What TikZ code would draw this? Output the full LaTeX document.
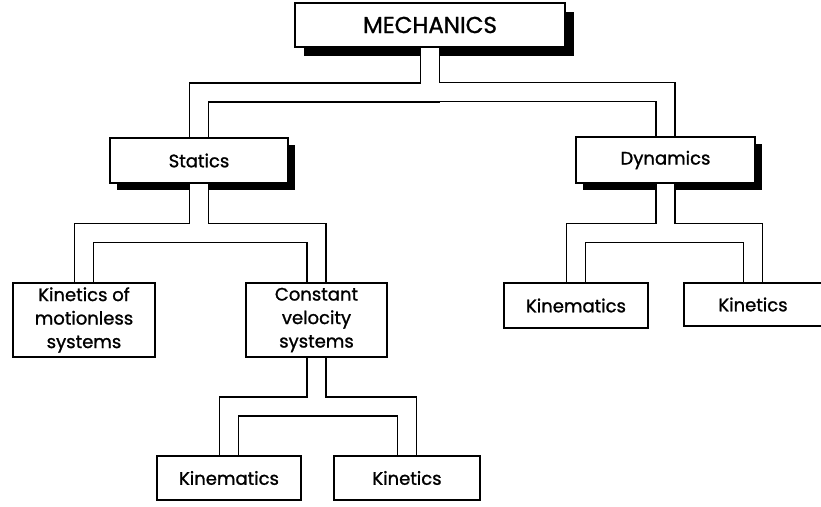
\documentclass[tikz,border=0pt]{standalone}
\usepackage{fontspec}
\setmainfont{Poppins}[FakeBold=1.2]
\usetikzlibrary{calc,shadows}
\begin{document}
\begin{tikzpicture}[x=1pt, y=-1pt,
    box/.style={draw, fill=white, line width=1.3pt, inner sep=0pt, align=center,
        font=\fontsize{18}{23.5}\selectfont},
    boxshadow/.style={drop shadow={shadow xshift=#1, shadow yshift=-#1, opacity=1, fill=black}},
    fork/.style={to path={|- ($(\tikztostart)!.5!(\tikztotarget)$) -| (\tikztotarget)}},
    pipeout/.style={line width=20.3pt, black, shorten <=.65pt, shorten >=.65pt},
    pipein/.style={line width=17.7pt, white, shorten <=.65pt, shorten >=.65pt}]
\useasboundingbox (0,0) rectangle (821,506);
\node[box, boxshadow=9pt, minimum width=270pt, minimum height=44pt,
    font=\fontsize{23}{28}\selectfont] (mech) at (430,25) {MECHANICS};
\node[box, boxshadow=6.5pt, minimum width=178pt, minimum height=45pt] (stat) at (199,160.5) {Statics};
\node[box, boxshadow=6.5pt, minimum width=179pt, minimum height=46pt] (dyn) at (665.5,160) {Dynamics};
\node[box, minimum width=142pt, minimum height=74pt] (kom) at (84,320) {Kinetics of\\motionless\\systems};
\node[box, minimum width=141pt, minimum height=74pt] (cvs) at (316.5,320) {Constant\\velocity\\systems};
\node[box, minimum width=144pt, minimum height=44pt] (kin1) at (229,478) {Kinematics};
\node[box, minimum width=146pt, minimum height=44pt] (kin2) at (407,478) {Kinetics};
\node[box, minimum width=144pt, minimum height=45pt] (kin3) at (576,305.5) {Kinematics};
\node[box, minimum width=138pt, minimum height=43pt] (kin4) at (753,304.5) {Kinetics};
\foreach \a/\b in {mech/stat,mech/dyn,stat/kom,stat/cvs,cvs/kin1,cvs/kin2,dyn/kin3,dyn/kin4}
    \draw[pipeout] (\a.south) to[fork] (\b.north);
\foreach \a/\b in {mech/stat,mech/dyn,stat/kom,stat/cvs,cvs/kin1,cvs/kin2,dyn/kin3,dyn/kin4}
    \draw[pipein] (\a.south) to[fork] (\b.north);
\end{tikzpicture}
\end{document}
